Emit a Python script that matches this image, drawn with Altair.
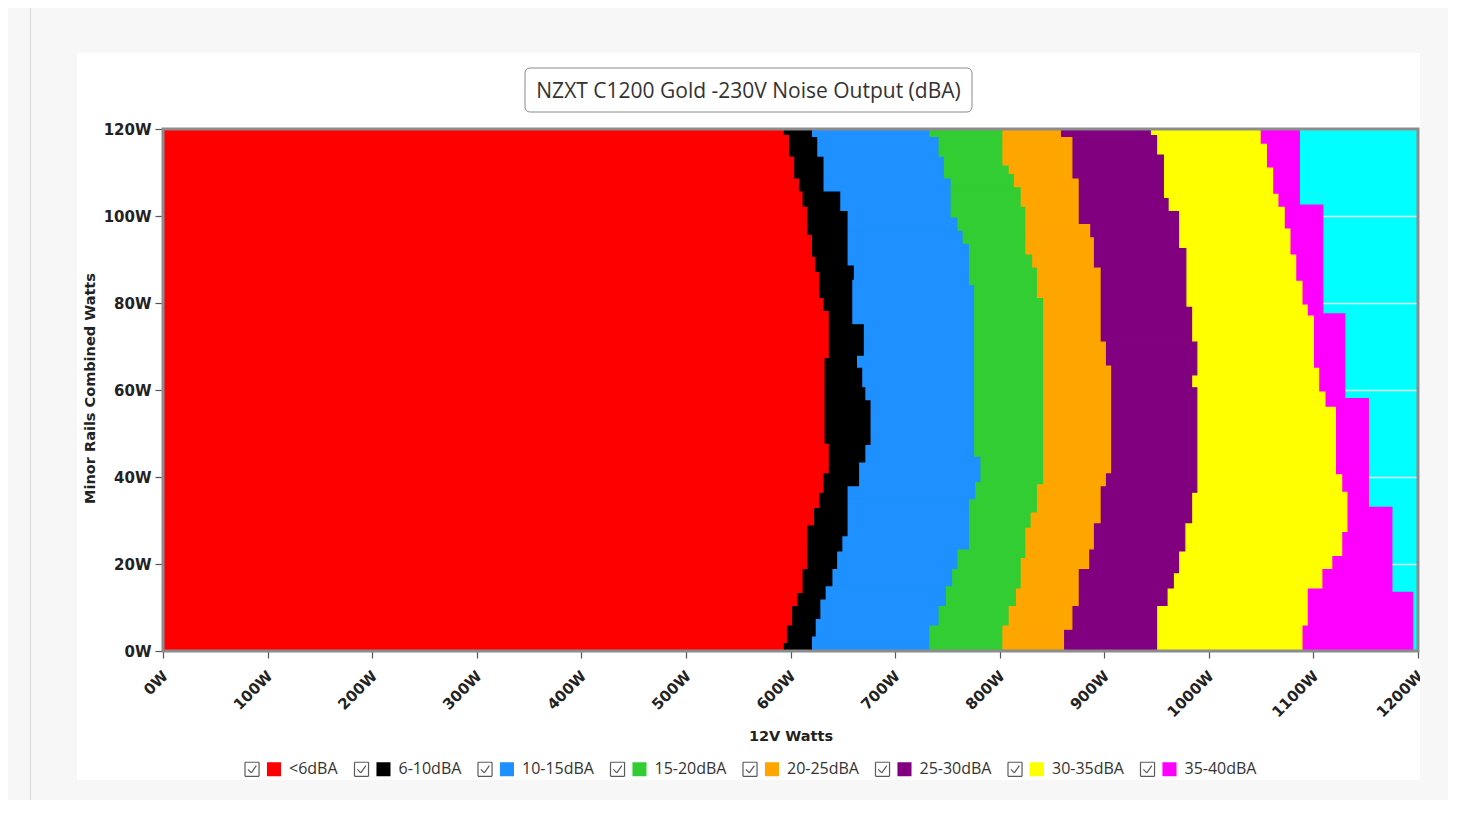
import altair as alt
import pandas as pd

# ---- categories / colours ----
bands = ["<6dBA", "6-10dBA", "10-15dBA", "15-20dBA", "20-25dBA", "25-30dBA", "30-35dBA", "35-40dBA"]
colors = ["#ff0000", "#000000", "#1e90ff", "#32cd32", "#ffa500", "#800080", "#ffff00", "#ff00ff"]
above_color = "#00ffff"  # >40dBA region (plot background)

# ---- right edge (12V W) of each noise band, per minor-rail segment ----
# *_y : segment edges (minor rails W, ascending), *_x : 12V W of the band's right edge in that segment
b1_y = [0, 2, 6, 10.5, 13.5, 19, 29, 33, 36.5, 41, 47.5, 67.5, 78, 81, 87, 90.5, 95.5, 102, 105.5, 108.5, 113.5, 118.5, 120]
b1_x = [593, 596, 601, 606, 611, 615.5, 622, 627, 631, 636, 632, 636, 631, 627, 623, 620, 615.5, 611, 607.5, 603, 598, 593]

b2_y = [0, 3.5, 7.5, 12, 15, 19, 23, 26.5, 38, 43.5, 47.5, 57.5, 60.5, 65, 68, 75, 85.5, 88.5, 101, 105.5, 113.5, 118, 120]
b2_x = [620, 623.5, 628, 633, 639.5, 644, 649, 654, 665, 671, 676, 671, 668, 663, 669.5, 658.5, 660, 654, 647, 631, 625, 620]

b3_y = [0, 6, 10.5, 15, 19, 23.5, 35, 39, 44.5, 84, 93.5, 96.5, 99.5, 108.5, 113.5, 118, 120]
b3_x = [732, 741, 748, 754, 759, 770, 776, 781, 775, 770, 764, 759, 752.5, 746, 741, 732]

b4_y = [0, 6, 10.5, 14.5, 21.5, 28.5, 32, 38.5, 81, 88, 91, 102, 106.5, 109.5, 111.5, 120]
b4_x = [802, 808, 815, 819.5, 824, 829, 835, 841, 835, 830.5, 824, 819.5, 813, 808, 802]

b5_y = [0, 5, 10.5, 19, 23.5, 29.5, 38, 41, 65.5, 71, 88, 95, 98, 108.5, 118, 120]
b5_x = [861, 869, 875, 885, 889.5, 896, 901, 906, 901, 896, 889.5, 886, 875, 869, 858]

b6_y = [0, 10.5, 14.5, 18, 23, 29.5, 36.5, 60.5, 63.5, 71, 79, 92.5, 101, 104, 114, 118.5, 120]
b6_x = [950, 960, 966, 971, 977, 983.5, 988.5, 983.5, 988.5, 983.5, 978, 971, 961, 956.5, 950, 944]

b7_y = [0, 6, 14.5, 19, 22, 27.5, 36.5, 40.5, 56, 59.5, 65, 77, 79.5, 85, 91, 97, 102, 105, 111, 116.5, 120]
b7_x = [1089, 1094, 1108, 1117.5, 1127, 1132, 1127, 1121, 1111, 1105, 1100, 1094, 1089, 1083, 1077.5, 1072, 1066, 1061, 1055, 1049]

b8_y = [0, 13.5, 33, 58, 77.5, 102.5, 120]
b8_x = [1195, 1175, 1152.5, 1130, 1109, 1086.5]

x_ticks = list(range(0, 1201, 100))
y_ticks = list(range(0, 121, 20))

title_text = "NZXT C1200 Gold -230V Noise Output (dBA)"
x_title = "12V Watts"
y_title = "Minor Rails Combined Watts"

# ---- build table (widest band first so narrower bands paint over it) ----
edges = [(b1_y, b1_x), (b2_y, b2_x), (b3_y, b3_x), (b4_y, b4_x),
         (b5_y, b5_x), (b6_y, b6_x), (b7_y, b7_x), (b8_y, b8_x)]
rows = []
for i in reversed(range(len(bands))):
    ys, xs = edges[i]
    for k, xv in enumerate(xs):
        rows.append({"band": bands[i], "y0": ys[k], "y1": ys[k + 1], "x0": 0, "x1": xv})
df = pd.DataFrame(rows)

W, H = 1255, 522
AX_FONT = "DejaVu Sans"
LG_FONT = "Open Sans"

# legend symbol: checkbox (line segments only, so no fill) + filled colour swatch
CHECKBOX_SWATCH = (
    "M-1,-0.39L-0.22,-0.39 M-0.22,-0.39L-0.22,0.39 M-0.22,0.39L-1,0.39 M-1,0.39L-1,-0.39 "
    "M-0.84,0.0L-0.65,0.2 M-0.65,0.2L-0.37,-0.2 "
    "M0.22,-0.39H1V0.39H0.22Z"
)
# grey stroke on the checkbox half only, none on the colour swatch half
CHECK_STROKE = (
    "{gradient: 'linear', x1: 0, y1: 0, x2: 1, y2: 0, stops: ["
    "{offset: 0, color: '#5a5a5a'}, {offset: 0.5, color: '#5a5a5a'}, "
    "{offset: 0.5, color: 'rgba(255,255,255,0)'}, {offset: 1, color: 'rgba(255,255,255,0)'}]}"
)

xscale = alt.Scale(domain=[0, 1200], nice=False, zero=True)
yscale = alt.Scale(domain=[0, 120], nice=False, zero=True)

bands_chart = alt.Chart(df).mark_rect(
    strokeWidth=1.2, stroke=alt.ExprRef("scale('color', datum.band)")
).encode(
    x=alt.X("x0:Q", scale=xscale, axis=alt.Axis(
        values=x_ticks, labelExpr="datum.value + 'W'", labelAngle=-45,
        labelFont=AX_FONT, labelFontWeight="bold", labelFontSize=15, labelColor="#222",
        tickSize=7, tickColor="#555", tickWidth=1.2, labelPadding=10, labelOffset=-3,
        domain=False, grid=False,
        title=x_title, titleFont=AX_FONT, titleFontWeight="bold", titleFontSize=14.5,
        titleColor="#222", titleY=85, titleBaseline="middle")),
    x2="x1:Q",
    y=alt.Y("y0:Q", scale=yscale, axis=alt.Axis(
        values=y_ticks, labelExpr="datum.value + 'W'",
        labelFont=AX_FONT, labelFontWeight="bold", labelFontSize=15, labelColor="#222",
        tickSize=8, tickColor="#555", tickWidth=1.2, labelPadding=4, domain=False,
        grid=True, gridColor="#d6f2f2", gridWidth=1.5,
        title=y_title, titleFont=AX_FONT, titleFontWeight="bold", titleFontSize=14.5,
        titleColor="#222", titleX=-73, titleY=259, titleBaseline="middle")),
    y2="y1:Q",
    color=alt.Color("band:N", scale=alt.Scale(domain=bands, range=colors), legend=alt.Legend(
        orient="none", legendX=81, legendY=621, direction="horizontal", columns=8,
        title=None, symbolType=CHECKBOX_SWATCH, symbolSize=1296, symbolStrokeWidth=1.2,
        symbolStrokeColor=alt.ExprRef(CHECK_STROKE),
        labelFont=LG_FONT, labelFontSize=16, labelColor="#333", labelOffset=7,
        columnPadding=13.5, padding=0)),
)


def deco(mark, x, x2, y, y2):
    return alt.Chart(alt.Data(values=[{}])).mark_rect(**mark).encode(
        x=alt.value(x), x2=alt.value(x2), y=alt.value(y), y2=alt.value(y2))


GRAY = "#f7f7f7"
surround = [
    deco({"color": GRAY}, -155, -86, -121, 671),
    deco({"color": GRAY}, -155, 1285, -121, -76),
    deco({"color": GRAY}, 1257, 1285, -121, 671),
    deco({"color": GRAY}, -155, 1285, 651, 671),
    deco({"color": "#d9d9d9"}, -133, -132, -121, 671),
]
frame = deco({"filled": False, "stroke": "#8c8c8c", "strokeWidth": 3}, 0, W, 0, H)
title_box = deco({"color": "white", "stroke": "#8a8a8a", "strokeWidth": 1, "cornerRadius": 5},
                 362, 809, -61, -17)
title = alt.Chart(alt.Data(values=[{}])).mark_text(
    text=title_text, font=LG_FONT, fontSize=21, color="#333", align="center", baseline="middle"
).encode(x=alt.value(585.5), y=alt.value(-37))

chart = alt.layer(
    bands_chart, frame, *surround, title_box, title
).properties(
    width=W, height=H,
    autosize=alt.AutoSizeParams(type="none"),
    padding={"left": 155, "top": 121, "right": 30, "bottom": 149},
    background="white",
).configure_view(fill=above_color, stroke="transparent")

chart.save("out.html", embed_options={"renderer": "svg", "actions": False})
